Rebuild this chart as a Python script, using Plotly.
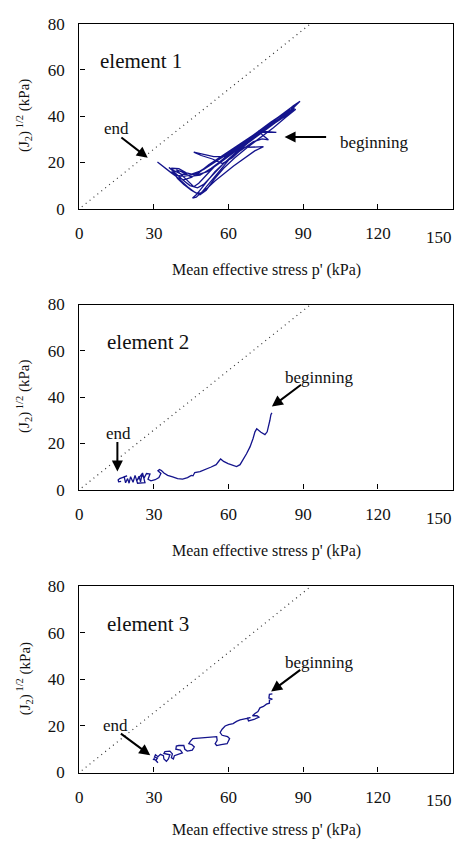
import plotly.graph_objects as go

# ---------------- data ----------------
cs_p = [1.0, 93.0]
cs_q = [0.86, 80.0]

e1_path = [
    (79.2, 33.0), (75.5, 33.2), (72.0, 33.6), (74.0, 31.5), (76.0, 29.8), (73.5, 30.2), (70.0, 29.0),
    (66.0, 26.0), (62.0, 23.0), (58.0, 19.5), (54.5, 16.0), (51.5, 12.0), (49.0, 8.5), (47.0, 6.0),
    (45.5, 4.6), (47.0, 5.0), (49.5, 7.5), (52.5, 11.5), (56.0, 16.0), (60.0, 21.0), (64.5, 25.5),
    (69.0, 29.5), (74.0, 33.5), (79.0, 37.5), (84.0, 41.5), (88.7, 46.4), (86.0, 44.5), (82.0, 41.0),
    (77.0, 37.5), (72.0, 33.5), (67.0, 29.5), (62.0, 26.0), (57.0, 22.0), (52.0, 18.5), (48.0, 16.0),
    (44.0, 14.5), (41.0, 15.0), (38.0, 16.5), (36.0, 17.8), (38.5, 15.5), (41.5, 12.5), (44.5, 10.0),
    (47.5, 9.0), (50.0, 10.5), (53.5, 14.5), (57.5, 19.0), (62.0, 23.5), (67.0, 28.0), (72.0, 32.0),
    (77.0, 36.0), (82.0, 40.0), (86.5, 43.5), (84.5, 42.5), (80.0, 39.5), (75.0, 35.5), (70.0, 31.5),
    (65.0, 27.5), (60.0, 24.0), (55.0, 20.5), (50.0, 17.0), (46.0, 15.0), (42.0, 14.0), (39.0, 14.5),
    (37.0, 16.0), (40.0, 13.0), (43.5, 9.5), (46.5, 7.0), (48.5, 6.0), (51.0, 8.0), (54.0, 12.5),
    (58.0, 17.5), (62.5, 22.0), (67.5, 26.5), (72.5, 30.5), (78.0, 35.0), (83.0, 39.5), (87.0, 43.0),
    (84.0, 41.8), (79.5, 38.5), (74.5, 34.5), (69.5, 30.5), (64.5, 27.0), (59.5, 23.0), (55.0, 19.0),
    (51.0, 14.5), (48.0, 11.0), (46.0, 9.5), (44.0, 11.5), (41.5, 14.0), (39.0, 16.8), (41.0, 16.0),
    (44.5, 14.0), (48.5, 14.5), (53.0, 17.5), (58.0, 21.5), (63.0, 25.5), (68.0, 29.8), (73.0, 34.0),
    (78.0, 38.0), (82.5, 41.5), (86.5, 44.8),
    (83.5, 40.5), (78.5, 37.0), (73.5, 33.0), (68.5, 29.0), (63.5, 25.5), (58.5, 22.5), (54.0, 22.5),
    (50.0, 23.5), (46.0, 24.5), (49.0, 23.0), (53.5, 21.5), (57.5, 19.5), (61.5, 22.0), (66.0, 26.5),
    (70.0, 26.6), (74.0, 26.8), (70.5, 25.0), (66.5, 22.0), (62.0, 18.5), (58.0, 15.0), (54.5, 12.0),
    (51.5, 9.0), (49.0, 7.0), (47.5, 6.5), (45.0, 8.0), (42.0, 10.5), (39.5, 13.0), (38.0, 15.5),
    (37.0, 17.5), (40.0, 17.3), (43.0, 15.5), (47.0, 14.5), (51.5, 16.0), (56.0, 19.5), (61.0, 23.5),
    (66.0, 27.5), (71.0, 31.5), (76.0, 35.5), (81.0, 39.0), (85.5, 42.0), (81.5, 39.5), (76.5, 36.5),
    (71.5, 33.0), (66.5, 29.5), (61.5, 26.0), (56.5, 22.5), (52.0, 19.0), (48.0, 15.5), (45.0, 13.5),
    (42.0, 12.5), (39.5, 13.5), (37.0, 15.5), (34.5, 17.5), (32.5, 19.0), (31.4, 20.2),
]

e2_path = [
    (77.4, 33.2), (77.0, 32.4), (76.6, 30.0), (76.2, 27.5), (75.5, 25.0), (74.6, 23.8), (73.0, 24.8),
    (71.3, 26.3), (70.6, 25.0), (69.8, 22.0), (68.6, 18.5), (67.2, 15.5), (65.8, 13.0), (64.6, 10.8),
    (63.2, 10.0), (61.5, 10.6), (59.8, 11.3), (58.0, 12.2), (56.8, 13.3), (56.2, 12.5), (55.0, 10.8),
    (53.0, 9.8), (50.8, 8.7), (48.5, 7.8), (46.4, 7.4), (45.7, 6.0), (45.0, 6.2), (43.5, 5.2),
    (41.5, 4.6), (39.5, 4.8), (37.5, 5.5), (35.5, 6.2), (34.0, 7.2), (33.0, 8.3), (32.2, 8.7),
    (31.6, 8.2), (32.8, 7.0), (32.0, 5.2), (30.5, 4.3), (28.8, 3.8), (27.6, 4.5), (28.4, 6.8),
    (27.0, 7.0), (26.0, 5.0), (25.2, 6.6), (24.6, 3.4), (24.0, 5.8), (23.2, 4.0), (25.4, 7.2),
    (26.4, 3.0), (23.4, 2.8), (22.4, 6.2), (21.6, 3.2), (20.6, 5.6), (20.0, 2.8), (19.4, 4.8),
    (18.6, 3.0), (18.0, 5.6), (19.2, 6.0), (17.2, 5.2), (16.2, 4.8), (15.6, 4.2), (15.8, 3.4),
    (16.8, 3.6),
]

e3_path = [
    (77.6, 33.8), (76.4, 33.6), (76.2, 32.0), (77.6, 31.6), (76.4, 31.2), (76.4, 29.8), (75.2, 29.4),
    (74.0, 28.4), (72.6, 27.8), (71.8, 26.2), (70.6, 25.4), (69.6, 24.4), (71.4, 24.4), (72.2, 23.8),
    (70.2, 22.8), (68.0, 22.2), (67.6, 23.4), (68.8, 23.6), (66.4, 23.0), (64.6, 22.6), (63.2, 22.0),
    (61.8, 21.0), (60.0, 20.6), (58.6, 20.0), (57.4, 18.6), (56.6, 17.2), (57.4, 16.0), (59.6, 15.4),
    (60.4, 14.6), (59.4, 12.4), (57.0, 12.0), (55.2, 11.6), (54.6, 12.4), (55.4, 13.8), (55.2, 15.4),
    (53.0, 15.2), (50.0, 15.0), (47.0, 14.8), (45.6, 14.6), (44.6, 13.4), (44.0, 12.4), (45.2, 12.0),
    (46.2, 11.0), (45.4, 9.6), (43.4, 9.2), (42.4, 10.0), (42.0, 11.6), (40.0, 11.6), (39.0, 11.4),
    (38.8, 10.0), (40.6, 9.6), (41.4, 8.4), (39.6, 7.8), (38.2, 7.2), (37.8, 5.8), (37.0, 6.4),
    (37.4, 8.0), (36.4, 9.2), (34.4, 9.0), (34.0, 8.2), (36.4, 7.6), (35.8, 5.8), (35.0, 4.8),
    (34.0, 5.8), (33.8, 7.2), (32.6, 7.8), (31.6, 6.8), (30.6, 7.6), (30.2, 6.6), (31.4, 6.2),
    (30.8, 5.2), (31.6, 4.2), (30.6, 5.4), (29.6, 5.6), (30.4, 6.0),
]

x_ticks = [0, 30, 60, 90, 120, 150]
y_ticks = [0, 20, 40, 60, 80]
panel_labels = ["element 1", "element 2", "element 3"]
x_title = "Mean effective stress p' (kPa)"
y_title = "(J<sub>2</sub>)<sup> 1/2</sup> (kPa)"

label_pos = [(24.7, 63.9), (27.4, 63.6), (27.5, 63.9)]
end_txt = [(14.9, 34.7), (15.8, 24.4), (14.7, 20.3)]
beg_txt = [(118.4, 28.5), (96.5, 48.5), (96.4, 47.4)]
end_arrow = [((16.3, 31.3), (27.5, 22.0)), ((15.3, 21.2), (15.3, 7.9)), ((16.1, 17.2), (28.5, 7.4))]
beg_arrow = [((99.8, 31.0), (82.5, 31.0)), ((89.7, 45.8), (77.4, 35.9)), ((89.4, 44.6), (77.1, 34.8))]

# ---------------- layout ----------------
W, H = 454, 848
SERIF = "Liberation Serif, Times New Roman, serif"
PATH_COLOR = "#14148c"
TXT = "#111111"

def py(px):
    return 1 - px / H

rects = [(15, 204.3), (302.3, 491.7), (590.7, 781)]
x_dom = [76 / W, 452.5 / W]
LABEL_GAP = 29  # px from axis line to tick label centre

fig = go.Figure()
for i, path in enumerate([e1_path, e2_path, e3_path]):
    k = "" if i == 0 else str(i + 1)
    xa, ya = "x" + k, "y" + k
    pp = [a for a, b in path]
    qq = [b for a, b in path]
    fig.add_trace(go.Scatter(x=cs_p, y=cs_q, mode="lines", xaxis=xa, yaxis=ya,
                             line=dict(color="#333333", width=1.2, dash="1px,4px"),
                             showlegend=False, hoverinfo="skip"))
    fig.add_trace(go.Scatter(x=pp, y=qq, mode="lines", xaxis=xa, yaxis=ya,
                             line=dict(color=PATH_COLOR, width=1.3), showlegend=False))
    top, bot = rects[i]
    common = dict(showline=True, mirror=True, linecolor="black", linewidth=1.4,
                  ticks="inside", ticklen=5, tickcolor="black", tickwidth=1,
                  showgrid=False, zeroline=False,
                  tickfont=dict(family=SERIF, size=17, color=TXT))
    fig.layout["xaxis" + k] = dict(common, domain=x_dom, range=[0, 150], tickvals=x_ticks,
                                   anchor=ya, ticklabelstandoff=9)
    fig.layout["yaxis" + k] = dict(common, domain=[py(bot), py(top)], range=[0, 80],
                                   tickvals=y_ticks, anchor=xa, ticklabelstandoff=10)

ann = []
x_title_y = [266.7, 554.0, 840.0]
for i in range(3):
    k = "" if i == 0 else str(i + 1)
    xr, yr = "x" + k, "y" + k
    top, bot = rects[i]
    # last tick label, which plotly would drop because it touches the figure edge
    ann.append(dict(text=str(x_ticks[-1]), xref="paper", yref="paper", x=1.0, y=py(bot + LABEL_GAP),
                    showarrow=False, xanchor="right", yanchor="middle",
                    font=dict(family=SERIF, size=17, color=TXT)))
    ann.append(dict(text=x_title, xref="paper", yref="paper", x=264.5 / W, y=py(x_title_y[i]),
                    showarrow=False, xanchor="center", yanchor="middle",
                    font=dict(family=SERIF, size=16, color=TXT)))
    ann.append(dict(text=y_title, xref="paper", yref="paper", x=20 / W, y=py((top + bot) / 2 - 1),
                    showarrow=False, textangle=-90, xanchor="center", yanchor="middle",
                    font=dict(family=SERIF, size=15, color=TXT)))
    ann.append(dict(text=panel_labels[i], xref=xr, yref=yr, x=label_pos[i][0], y=label_pos[i][1],
                    showarrow=False, font=dict(family=SERIF, size=21, color=TXT)))
    ann.append(dict(text="end", xref=xr, yref=yr, x=end_txt[i][0], y=end_txt[i][1],
                    showarrow=False, font=dict(family=SERIF, size=17, color=TXT)))
    ann.append(dict(text="beginning", xref=xr, yref=yr, x=beg_txt[i][0], y=beg_txt[i][1],
                    showarrow=False, font=dict(family=SERIF, size=17, color=TXT)))
    for (tail, head) in (end_arrow[i], beg_arrow[i]):
        ann.append(dict(text="", xref=xr, yref=yr, axref=xr, ayref=yr,
                        x=head[0], y=head[1], ax=tail[0], ay=tail[1],
                        showarrow=True, arrowhead=2, arrowsize=1.1, arrowwidth=2,
                        arrowcolor="black"))

fig.update_layout(width=W, height=H, margin=dict(l=0, r=0, t=0, b=0),
                  paper_bgcolor="white", plot_bgcolor="white",
                  annotations=ann, showlegend=False)

fig.write_html("out.html")
